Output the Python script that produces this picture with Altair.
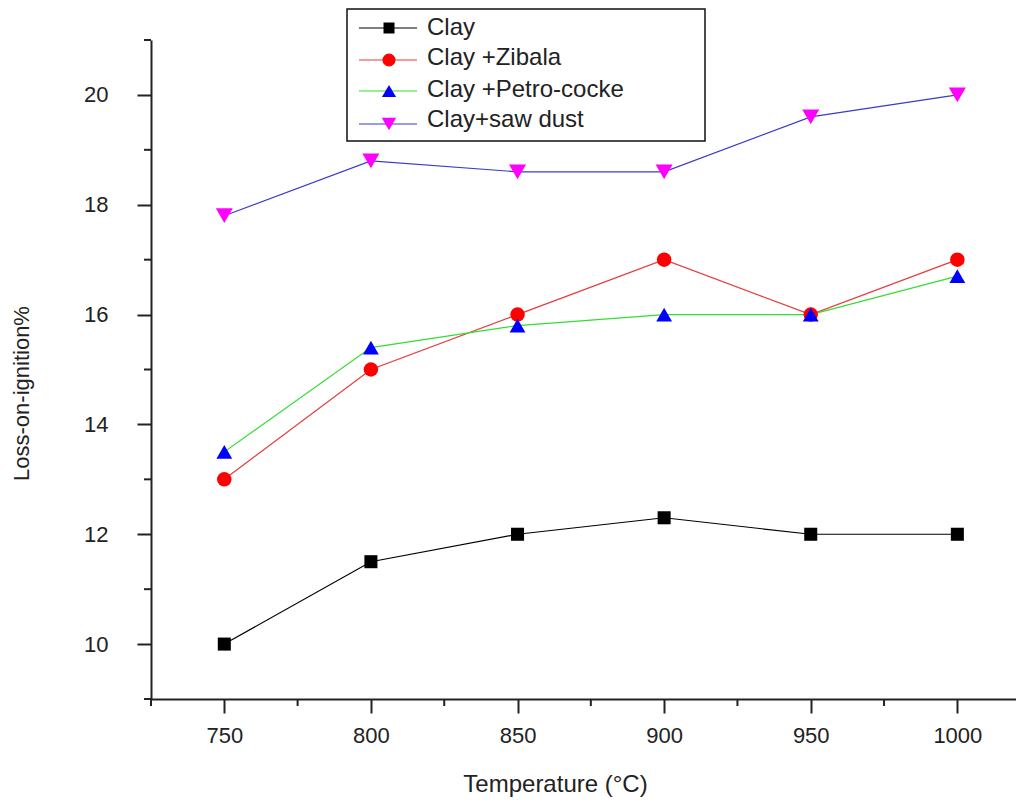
import altair as alt
import pandas as pd

# ---- data ----
temps = [750, 800, 850, 900, 950, 1000]
clay = [10.0, 11.5, 12.0, 12.3, 12.0, 12.0]
zibala = [13.0, 15.0, 16.0, 17.0, 16.0, 17.0]
petro = [13.5, 15.4, 15.8, 16.0, 16.0, 16.7]
saw = [17.8, 18.8, 18.6, 18.6, 19.6, 20.0]
series_names = ["Clay", "Clay +Zibala", "Clay +Petro-cocke", "Clay+saw dust"]
y_ticks = [10, 12, 14, 16, 18, 20]
minor_x = [725, 775, 825, 875, 925, 975]
minor_y = [9, 11, 13, 15, 17, 19, 21]

# ---- styles ----
line_colors = ["#000000", "#e8393b", "#33dd33", "#3b3bc8"]
marker_colors = ["#000000", "#ff0000", "#0000ff", "#ff00ff"]
marker_shapes = ["square", "circle", "triangle-up", "triangle-down"]
marker_sizes = [170, 290, 330, 340]
legend_sizes = [121, 170, 200, 210]

font = "Liberation Sans"
ink = "#222222"
W, H = 865, 659

rows = []
for name, vals in zip(series_names, [clay, zibala, petro, saw]):
    for t, v in zip(temps, vals):
        rows.append({"Temperature": t, "LOI": v, "Series": name})
df = pd.DataFrame(rows)

xscale = alt.Scale(domain=[725, 1020], nice=False, zero=False)
yscale = alt.Scale(domain=[9, 21], nice=False, zero=False)

x_axis = alt.Axis(values=temps, format="d", title="Temperature (°C)", tickSize=14, labelPadding=12,
                  titleX=404, titleY=92, titleBaseline="alphabetic", titleAlign="center",
                  titleFontSize=24, labelFlush=False, labelOverlap=False)
y_axis = alt.Axis(values=y_ticks, format="d", title="Loss-on-ignition%", tickSize=14, labelPadding=29,
                  titleAngle=270, titleX=-123, titleY=353, titleBaseline="alphabetic",
                  titleAlign="center", titleFontSize=22, labelFlush=False, labelOverlap=False)

base = alt.Chart(df)
lines = base.mark_line(strokeWidth=1.2).encode(
    x=alt.X("Temperature:Q", scale=xscale, axis=x_axis),
    y=alt.Y("LOI:Q", scale=yscale, axis=y_axis),
    color=alt.Color("Series:N", scale=alt.Scale(domain=series_names, range=line_colors), legend=None),
)
points = base.mark_point(filled=True, opacity=1, strokeWidth=0).encode(
    x=alt.X("Temperature:Q", scale=xscale, axis=x_axis),
    y=alt.Y("LOI:Q", scale=yscale, axis=y_axis),
    shape=alt.Shape("Series:N", scale=alt.Scale(domain=series_names, range=marker_shapes), legend=None),
    fill=alt.Fill("Series:N", scale=alt.Scale(domain=series_names, range=marker_colors), legend=None),
    size=alt.Size("Series:N", scale=alt.Scale(domain=series_names, range=marker_sizes), legend=None),
)

# minor ticks (Origin-style short ticks between the labelled ones)
mx = alt.Chart(pd.DataFrame({"Temperature": minor_x})).mark_rule(color=ink, strokeWidth=2).encode(
    x=alt.X("Temperature:Q", scale=xscale, axis=x_axis),
    y=alt.value(H), y2=alt.value(H + 7),
)
my = alt.Chart(pd.DataFrame({"LOI": minor_y})).mark_rule(color=ink, strokeWidth=2).encode(
    y=alt.Y("LOI:Q", scale=yscale, axis=y_axis),
    x=alt.value(0), x2=alt.value(-7),
)

# ---- legend (drawn by hand, Origin style) ----
one = pd.DataFrame({"k": [0]})
legend_layers = [
    alt.Chart(one).mark_rect(fill="white", stroke="#111111", strokeWidth=1.5).encode(
        x=alt.value(196), x2=alt.value(554), y=alt.value(-31), y2=alt.value(101))
]
sym_y = [-12, 20, 51, 84]
text_y = [-5, 25, 57, 87]
for i, name in enumerate(series_names):
    legend_layers.append(
        alt.Chart(one).mark_rule(color=line_colors[i], strokeWidth=1.2).encode(
            x=alt.value(208), x2=alt.value(266), y=alt.value(sym_y[i])))
    legend_layers.append(
        alt.Chart(one).mark_point(shape=marker_shapes[i], filled=True, color=marker_colors[i],
                                  size=legend_sizes[i], opacity=1, strokeWidth=0).encode(
            x=alt.value(238), y=alt.value(sym_y[i])))
    legend_layers.append(
        alt.Chart(one).mark_text(text=name, align="left", baseline="alphabetic", font=font,
                                 fontSize=24, color=ink).encode(
            x=alt.value(276), y=alt.value(text_y[i])))

chart = alt.layer(lines, points, mx, my, *legend_layers).properties(
    width=W, height=H,
    padding={"left": 143, "top": 32, "right": 0, "bottom": 100},
    autosize=alt.AutoSizeParams(type="none"),
    background="white",
).configure_view(stroke=None).configure_axis(
    domainColor=ink, domainWidth=2, tickColor=ink, tickWidth=2, grid=False,
    labelFont=font, labelFontSize=22, labelColor=ink,
    titleFont=font, titleFontWeight="normal", titleColor=ink,
)

chart.save("out.html", embed_options={"renderer": "svg", "actions": False})
